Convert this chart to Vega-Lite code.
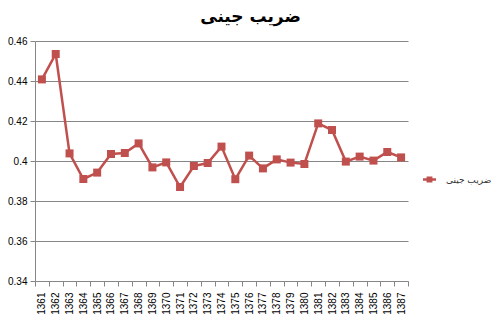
{
  "$schema": "https://vega.github.io/schema/vega-lite/v6.json",
  "width": 373,
  "height": 240,
  "autosize": {"type": "none"},
  "padding": {"left": 35, "top": 41, "right": 92, "bottom": 42},
  "background": "white",
  "title": {
    "text": "ضریب جینی",
    "font": "DejaVu Sans",
    "fontSize": 17,
    "fontWeight": "bold",
    "color": "black",
    "anchor": "middle",
    "frame": "group",
    "dx": 29,
    "offset": 10
  },
  "config": {
    "view": {"stroke": null},
    "axis": {
      "labelFont": "Liberation Sans",
      "labelFontSize": 10,
      "labelColor": "black",
      "domainColor": "#868686",
      "tickColor": "#868686",
      "gridColor": "#868686",
      "title": null
    }
  },
  "data": {
    "values": [
      {"year": "1361", "gini": 0.4408, "series": "ضریب جینی"},
      {"year": "1362", "gini": 0.4535, "series": "ضریب جینی"},
      {"year": "1363", "gini": 0.4038, "series": "ضریب جینی"},
      {"year": "1364", "gini": 0.391, "series": "ضریب جینی"},
      {"year": "1365", "gini": 0.3942, "series": "ضریب جینی"},
      {"year": "1366", "gini": 0.4035, "series": "ضریب جینی"},
      {"year": "1367", "gini": 0.404, "series": "ضریب جینی"},
      {"year": "1368", "gini": 0.4088, "series": "ضریب جینی"},
      {"year": "1369", "gini": 0.3968, "series": "ضریب جینی"},
      {"year": "1370", "gini": 0.3993, "series": "ضریب جینی"},
      {"year": "1371", "gini": 0.387, "series": "ضریب جینی"},
      {"year": "1372", "gini": 0.3975, "series": "ضریب جینی"},
      {"year": "1373", "gini": 0.399, "series": "ضریب جینی"},
      {"year": "1374", "gini": 0.4072, "series": "ضریب جینی"},
      {"year": "1375", "gini": 0.3909, "series": "ضریب جینی"},
      {"year": "1376", "gini": 0.4027, "series": "ضریب جینی"},
      {"year": "1377", "gini": 0.3963, "series": "ضریب جینی"},
      {"year": "1378", "gini": 0.4008, "series": "ضریب جینی"},
      {"year": "1379", "gini": 0.3992, "series": "ضریب جینی"},
      {"year": "1380", "gini": 0.3985, "series": "ضریب جینی"},
      {"year": "1381", "gini": 0.4188, "series": "ضریب جینی"},
      {"year": "1382", "gini": 0.4155, "series": "ضریب جینی"},
      {"year": "1383", "gini": 0.3997, "series": "ضریب جینی"},
      {"year": "1384", "gini": 0.4022, "series": "ضریب جینی"},
      {"year": "1385", "gini": 0.4002, "series": "ضریب جینی"},
      {"year": "1386", "gini": 0.4045, "series": "ضریب جینی"},
      {"year": "1387", "gini": 0.4018, "series": "ضریب جینی"}
    ]
  },
  "mark": {
    "type": "line",
    "strokeWidth": 2.5,
    "point": {"shape": "square", "size": 64, "filled": true, "opacity": 1}
  },
  "encoding": {
    "x": {
      "field": "year",
      "type": "ordinal",
      "scale": {"paddingInner": 0, "paddingOuter": 0},
      "axis": {
        "labelAngle": -90,
        "tickBand": "extent",
        "tickSize": 5,
        "labelPadding": 6,
        "grid": false,
        "domainWidth": 1
      }
    },
    "y": {
      "field": "gini",
      "type": "quantitative",
      "scale": {"domain": [0.34, 0.46], "nice": false, "zero": false},
      "axis": {
        "values": [0.34, 0.36, 0.38, 0.4, 0.42, 0.44, 0.46],
        "format": ".2~f",
        "tickSize": 5,
        "labelPadding": 3,
        "grid": true,
        "gridWidth": 1
      }
    },
    "color": {
      "field": "series",
      "type": "nominal",
      "scale": {"range": ["#C0504D"]},
      "legend": {
        "orient": "none",
        "legendX": 388,
        "legendY": 132,
        "title": null,
        "padding": 0,
        "symbolType": "M-1,-0.2H1V0.2H-1Z M-0.45,-0.45H0.45V0.45H-0.45Z",
        "symbolSize": 169,
        "symbolFillColor": "#C0504D",
        "symbolStrokeColor": "#C0504D",
        "symbolStrokeWidth": 0,
        "symbolOpacity": 1,
        "labelFont": "DejaVu Sans",
        "labelFontSize": 9,
        "labelOffset": 10,
        "labelColor": "#333333"
      }
    }
  }
}
